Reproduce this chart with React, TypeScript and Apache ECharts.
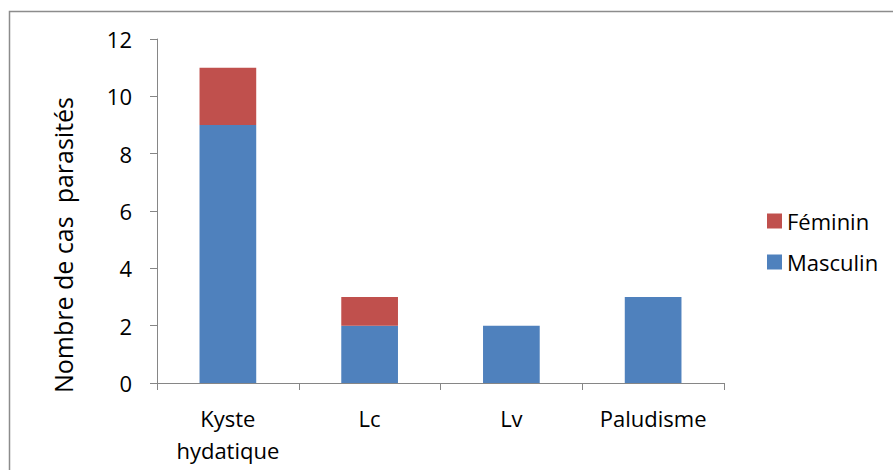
import React, { useEffect, useRef } from "react";
import * as echarts from "echarts";

const categories = ["Kyste\nhydatique", "Lc", "Lv", "Paludisme"];
const masculin = [9, 2, 2, 3];
const feminin = [2, 1, 0, 0];
const yTicks = { min: 0, max: 12, interval: 2 };
const yTitle = "Nombre de cas  parasités";

const FONT = "'Open Sans', Lato, sans-serif";

export default function App() {
  const ref = useRef<HTMLDivElement>(null);
  useEffect(() => {
    if (!ref.current) return;
    const chart = echarts.init(ref.current, undefined, { renderer: "svg" });
    chart.setOption({
      animation: false,
      backgroundColor: "#ffffff",
      textStyle: { fontFamily: FONT },
      grid: { left: 157, top: 39, right: 169, bottom: 87 },
      legend: {
        orient: "vertical",
        left: 762,
        top: 205,
        itemWidth: 15,
        itemHeight: 15,
        itemGap: 19,
        itemTextGap: 6,
        data: ["Féminin", "Masculin"],
        textStyle: { fontSize: 22, color: "#000", fontFamily: FONT },
        icon: "rect",
      },
      xAxis: {
        type: "category",
        data: categories,
        axisLine: { lineStyle: { color: "#868686", width: 1 } },
        axisTick: { show: true, length: 7, lineStyle: { color: "#868686" } },
        axisLabel: {
          color: "#000",
          fontSize: 22,
          margin: 19,
          lineHeight: 32,
          interval: 0,
          hideOverlap: false,
          fontFamily: FONT,
        },
      },
      yAxis: {
        type: "value",
        min: yTicks.min,
        max: yTicks.max,
        interval: yTicks.interval,
        axisLine: { show: true, lineStyle: { color: "#868686", width: 1 } },
        axisTick: { show: true, length: 7, lineStyle: { color: "#868686" } },
        splitLine: { show: false },
        axisLabel: { color: "#000", fontSize: 22, margin: 25, fontFamily: FONT },
      },
      graphic: [
        {
          type: "rect",
          shape: { x: 9.5, y: 11.5, width: 900, height: 500 },
          style: { fill: "none", stroke: "#8c8c8c", lineWidth: 1.5 },
          silent: true,
        },
        {
          type: "text",
          x: 63,
          y: 245,
          rotation: Math.PI / 2,
          style: {
            text: yTitle,
            fontSize: 25,
            fontFamily: FONT,
            fill: "#000",
            align: "center",
            verticalAlign: "middle",
          },
        },
      ],
      series: [
        {
          name: "Masculin",
          type: "bar",
          stack: "total",
          data: masculin,
          barWidth: "40%",
          itemStyle: { color: "#4F81BD" },
        },
        {
          name: "Féminin",
          type: "bar",
          stack: "total",
          data: feminin,
          barWidth: "40%",
          itemStyle: { color: "#C0504D" },
        },
      ],
    });
    return () => chart.dispose();
  }, []);
  return (
    <div
      ref={ref}
      style={{ position: "absolute", left: 0, top: 0, width: 893, height: 470 }}
    />
  );
}
